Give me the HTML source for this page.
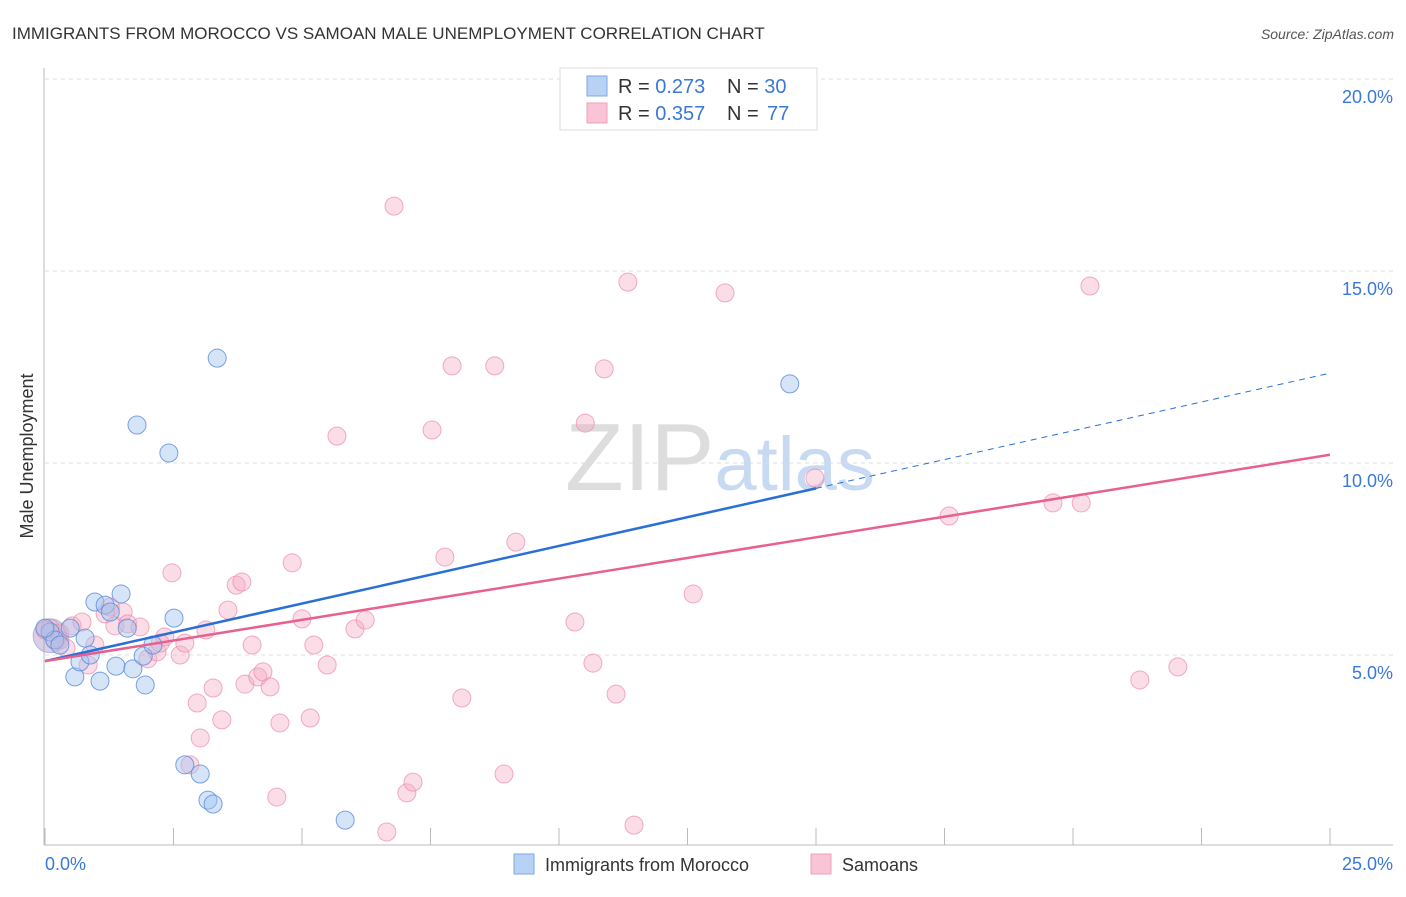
<!DOCTYPE html>
<html><head><meta charset="utf-8"><style>
body{margin:0;background:#fff;font-family:"Liberation Sans",sans-serif;}
svg text{font-family:"Liberation Sans",sans-serif;white-space:pre;}
</style></head><body>
<svg id="chart" width="1406" height="892" xmlns="http://www.w3.org/2000/svg">
<text x="12" y="39" font-size="17" fill="#333">IMMIGRANTS FROM MOROCCO VS SAMOAN MALE UNEMPLOYMENT CORRELATION CHART</text>
<text x="1394" y="39" font-size="14" fill="#555" font-style="italic" text-anchor="end">Source: ZipAtlas.com</text>
<text transform="translate(33,456) rotate(-90)" font-size="18" fill="#333" text-anchor="middle">Male Unemployment</text>
<text x="720" y="490" font-size="96" fill="#ddd" text-anchor="middle" font-family="Liberation Serif">ZIP<tspan fill="#c8daf2" font-family="Liberation Sans" font-size="76">atlas</tspan></text>
<g id="grid"></g><g id="pts"></g><g id="lines"></g>
<g>
<rect x="560" y="68" width="257" height="62" fill="#fff" stroke="#ddd"/>
<rect x="587" y="76" width="20" height="20" fill="#b8d2f5" stroke="#7ea7e4"/>
<rect x="587" y="103" width="20" height="20" fill="#f9c4d5" stroke="#f0a0b8"/>
<text x="618" y="93" font-size="20" fill="#333">R = <tspan fill="#3a78d8">0.273</tspan><tspan x="727">N = </tspan><tspan fill="#3a78d8">30</tspan></text>
<text x="618" y="120" font-size="20" fill="#333">R = <tspan fill="#3a78d8">0.357</tspan><tspan x="727">N = </tspan><tspan x="767" fill="#3a78d8">77</tspan></text>
</g>
<g>
<rect x="514" y="854" width="20" height="20" fill="#b8d2f5" stroke="#7ea7e4"/>
<text x="545" y="871" font-size="18" fill="#333">Immigrants from Morocco</text>
<rect x="811" y="854" width="20" height="20" fill="#f9c4d5" stroke="#f0a0b8"/>
<text x="842" y="871" font-size="18" fill="#333">Samoans</text>
</g>
</svg>
<script>
const blueX=[0.10,0.19,0.29,0.49,0.78,0.58,0.68,0.88,0.97,1.07,1.17,1.27,1.38,1.48,1.60,1.71,1.79,1.95,1.91,2.10,2.41,2.51,3.35,2.72,3.02,3.17,3.27,5.84,14.49,0.0];
const blueY=[5.60,5.39,5.26,5.70,5.44,4.43,4.82,5.00,6.38,4.32,6.30,6.12,4.71,6.59,5.70,4.64,10.99,4.22,4.97,5.26,10.26,5.96,12.73,2.14,1.90,1.22,1.12,0.70,12.06,5.70];
const pinkX=[0.10,0.19,0.29,0.41,0.53,0.72,0.84,0.97,1.17,1.27,1.36,1.52,1.61,1.85,2.00,2.18,2.24,2.33,2.47,2.63,2.72,2.82,2.96,3.02,3.13,3.27,3.44,3.56,3.72,3.83,4.03,3.89,4.14,4.24,4.38,4.51,4.57,4.81,5.00,5.16,5.23,5.49,5.68,6.03,6.23,6.65,6.79,7.04,7.16,7.53,7.78,7.92,8.11,8.75,8.93,9.16,10.31,10.51,10.66,10.88,11.11,11.34,11.46,12.61,13.23,14.98,17.59,19.61,20.16,20.33,21.30,22.04,0,0.29];
const pinkY=[5.70,5.39,5.57,5.18,5.76,5.86,4.74,5.26,6.07,6.25,5.76,6.12,5.81,5.73,4.90,5.08,5.31,5.47,7.14,5.00,5.31,2.14,3.75,2.84,5.65,4.14,3.31,6.17,6.82,6.90,5.26,4.24,4.43,4.56,4.17,1.30,3.23,7.40,5.94,3.36,5.26,4.74,10.70,5.68,5.91,0.39,16.69,1.41,1.69,10.86,7.55,12.53,3.88,12.53,1.90,7.94,5.86,11.04,4.79,12.45,3.98,14.71,0.57,6.59,14.43,9.61,8.62,8.96,8.96,14.61,4.35,4.69,5.65,5.39];
const yTicks=[5,10,15,20];
const yTickLabels=["5.0%","10.0%","15.0%","20.0%"];
const xTicks=[0,2.5,5,7.5,10,12.5,15,17.5,20,22.5,25];
const blueTrend=[4.84,0.30];
const pinkTrend=[4.84,0.215];
const blueSolidEnd=15;
const X=v=>45+v/25*1285, Y=v=>847-v*38.4;
const NS="http://www.w3.org/2000/svg";
function mk(t,a,p){const e=document.createElementNS(NS,t);for(const k in a)e.setAttribute(k,a[k]);p.appendChild(e);return e;}
const grid=document.getElementById('grid'),pts=document.getElementById('pts'),lines=document.getElementById('lines');
yTicks.forEach((v,i)=>{
 const l=mk('line',{x1:45,x2:1393,y1:Y(v),y2:Y(v),stroke:'#ddd','stroke-dasharray':'4,4'},grid);
 
 
 const t=mk('text',{x:1393,y:Y(v)+24,'font-size':18,fill:'#3a78d8','text-anchor':'end'},grid);
 t.textContent=yTickLabels[i];
 
 
});
const ax=mk('line',{x1:44,x2:44,y1:68,y2:845,stroke:'#bbb'},grid);


const bx=mk('line',{x1:44,x2:1393,y1:845,y2:845,stroke:'#bbb'},grid);


xTicks.forEach(v=>{const t=mk('line',{x1:X(v),x2:X(v),y1:828,y2:845,stroke:'#bbb'},grid);
 
 });
const xl0=mk('text',{x:45,y:870,'font-size':18,fill:'#3a78d8'},grid);xl0.textContent='0.0%';


const xl1=mk('text',{x:1393,y:870,'font-size':18,fill:'#3a78d8','text-anchor':'end'},grid);xl1.textContent='25.0%';


const big=mk('circle',{cx:X(0.1),cy:Y(5.5),r:17,fill:'rgba(170,150,200,0.45)',stroke:'rgba(140,150,210,0.6)'},pts);


pinkX.forEach((x,i)=>{const c=mk('circle',{cx:X(x),cy:Y(pinkY[i]),r:9,fill:'rgba(245,170,195,0.4)',stroke:'rgba(235,140,170,0.7)'},pts);
 
 });
blueX.forEach((x,i)=>{const c=mk('circle',{cx:X(x),cy:Y(blueY[i]),r:9,fill:'rgba(164,196,240,0.45)',stroke:'rgba(90,140,220,0.8)'},pts);
 
 });
const bl=mk('line',{x1:X(0),y1:Y(blueTrend[0]),x2:X(blueSolidEnd),y2:Y(blueTrend[0]+blueTrend[1]*blueSolidEnd),stroke:'#2a6fd6','stroke-width':2.5},lines);


const bd=mk('line',{x1:X(blueSolidEnd),y1:Y(blueTrend[0]+blueTrend[1]*blueSolidEnd),x2:X(25),y2:Y(blueTrend[0]+blueTrend[1]*25),stroke:'#2a6fd6','stroke-width':1,'stroke-dasharray':'6,5'},lines);


const pl=mk('line',{x1:X(0),y1:Y(pinkTrend[0]),x2:X(25),y2:Y(pinkTrend[0]+pinkTrend[1]*25),stroke:'#e8608e','stroke-width':2.5},lines);


</script>
</body></html>
